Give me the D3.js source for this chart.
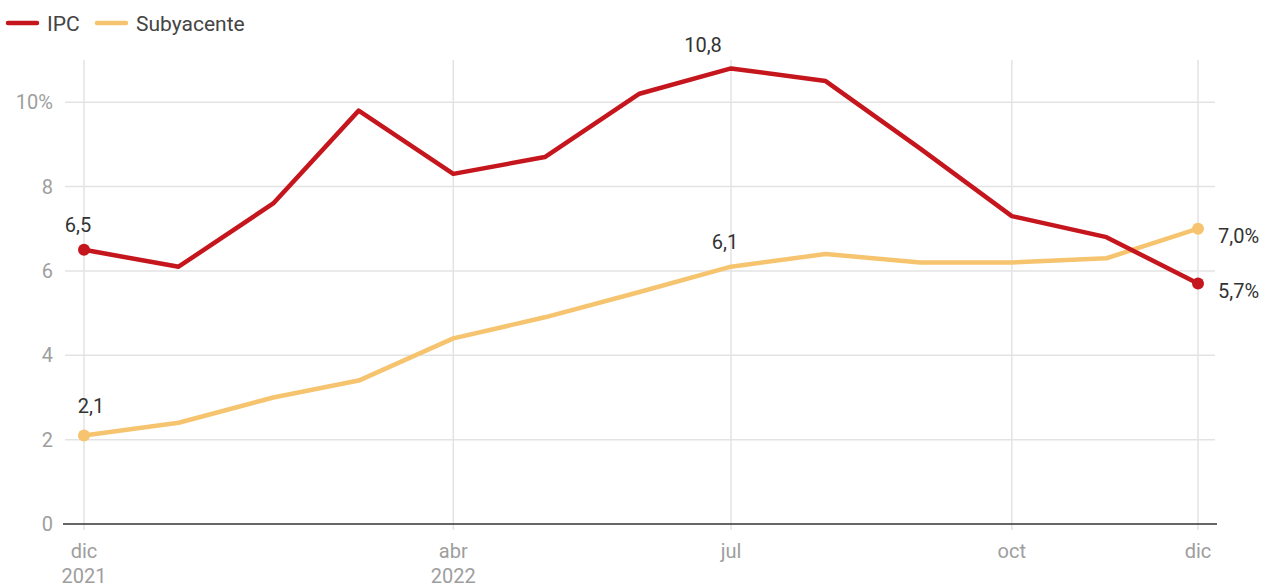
<!DOCTYPE html>
<html>
<head>
<meta charset="utf-8">
<script src="https://cdn.jsdelivr.net/npm/d3@7"></script>
<style>
  body { margin: 0; background: #fff; }
  svg { display: block; font-family: Roboto, "Noto Sans", sans-serif; }
</style>
</head>
<body>
<svg id="chart" width="1266" height="587"></svg>
<script>
// Monthly inflation, Dec 2021 – Dec 2022 (interannual %)
const months = ["2021-12-01","2022-01-01","2022-02-01","2022-03-01","2022-04-01","2022-05-01",
                "2022-06-01","2022-07-01","2022-08-01","2022-09-01","2022-10-01","2022-11-01","2022-12-01"];
const ipc = [6.5, 6.1, 7.6, 9.8, 8.3, 8.7, 10.2, 10.8, 10.5, 8.9, 7.3, 6.8, 5.7];
const subyacente = [2.1, 2.4, 3.0, 3.4, 4.4, 4.9, 5.5, 6.1, 6.4, 6.2, 6.2, 6.3, 7.0];
const yTicks = [0, 2, 4, 6, 8, 10];
const xTickDates = ["2021-12-01","2022-04-01","2022-07-01","2022-10-01","2022-12-01"];
const xTickLabels = [["dic","2021"],["abr","2022"],["jul"],["oct"],["dic"]];
const seriesNames = ["IPC", "Subyacente"];
const seriesColors = ["#c5161e", "#f6c46f"];

const parse = d3.utcParse("%Y-%m-%d");
const dates = months.map(parse);
const svg = d3.select("#chart");

const x = d3.scaleUtc().domain([dates[0], dates[dates.length - 1]]).range([84, 1198]);
const y = d3.scaleLinear().domain([0, 11]).range([524, 60]);

const fmt = v => d3.format(".1f")(v).replace(".", ",");
const FS = 20;

// horizontal gridlines
svg.append("g").selectAll("line").data(yTicks.filter(d => d > 0)).join("line")
  .attr("x1", 65).attr("x2", 1215)
  .attr("y1", d => y(d)).attr("y2", d => y(d))
  .attr("stroke", "#e3e3e3").attr("stroke-width", 1.5);

// vertical gridlines
svg.append("g").selectAll("line").data(xTickDates.map(parse)).join("line")
  .attr("x1", d => x(d)).attr("x2", d => x(d))
  .attr("y1", 60).attr("y2", 530)
  .attr("stroke", "#e3e3e3").attr("stroke-width", 1.5);

// baseline
svg.append("line").attr("x1", 63).attr("x2", 1217)
  .attr("y1", y(0)).attr("y2", y(0))
  .attr("stroke", "#333").attr("stroke-width", 1.5);

// y tick labels
svg.append("g").selectAll("text").data(yTicks).join("text")
  .attr("x", 53).attr("y", d => y(d) + 7)
  .attr("text-anchor", "end")
  .attr("fill", "#9e9e9e").attr("font-size", FS)
  .text(d => d === 10 ? "10%" : d);

// x tick labels
const xl = svg.append("g").selectAll("text").data(xTickDates).join("text")
  .attr("text-anchor", "middle")
  .attr("fill", "#9e9e9e").attr("font-size", FS);
xl.each(function(d, i) {
  const t = d3.select(this);
  xTickLabels[i].forEach((s, j) => {
    t.append("tspan").attr("x", x(parse(d))).attr("y", 558 + j * 25).text(s);
  });
});

// lines
const line = d3.line().x((d, i) => x(dates[i])).y(d => y(d));
[subyacente, ipc].forEach((vals, k) => {
  const color = k === 0 ? seriesColors[1] : seriesColors[0];
  svg.append("path").datum(vals)
    .attr("d", line)
    .attr("fill", "none").attr("stroke", color)
    .attr("stroke-width", 4.5).attr("stroke-linejoin", "round").attr("stroke-linecap", "round");
  const last = vals.length - 1;
  svg.append("g").selectAll("circle").data([0, last]).join("circle")
    .attr("cx", i => x(dates[i])).attr("cy", i => y(vals[i]))
    .attr("r", 6).attr("fill", color);
});

// value labels
const labels = [
  { i: 0, v: ipc[0], dx: -6, dy: -18, anchor: "middle", pct: false },
  { i: 0, v: subyacente[0], dx: 7, dy: -22, anchor: "middle", pct: false },
  { i: 7, v: ipc[7], dx: -28, dy: -16, anchor: "middle", pct: false },
  { i: 7, v: subyacente[7], dx: -6, dy: -18, anchor: "middle", pct: false },
  { i: 12, v: subyacente[12], dx: 20, dy: 14, anchor: "start", pct: true },
  { i: 12, v: ipc[12], dx: 20, dy: 14, anchor: "start", pct: true }
];
svg.append("g").selectAll("text").data(labels).join("text")
  .attr("x", d => x(dates[d.i]) + d.dx)
  .attr("y", d => y(d.v) + d.dy)
  .attr("text-anchor", d => d.anchor)
  .attr("fill", "#333").attr("font-size", FS)
  .text(d => fmt(d.v) + (d.pct ? "%" : ""));

// legend
const legend = svg.append("g");
const legendX = [8, 97];
seriesNames.forEach((name, k) => {
  legend.append("line")
    .attr("x1", legendX[k]).attr("x2", legendX[k] + 29)
    .attr("y1", 23).attr("y2", 23)
    .attr("stroke", seriesColors[k]).attr("stroke-width", 4.5).attr("stroke-linecap", "round");
  legend.append("text")
    .attr("x", legendX[k] + 39).attr("y", 31)
    .attr("fill", "#444").attr("font-size", 21)
    .text(name);
});
</script>
</body>
</html>
